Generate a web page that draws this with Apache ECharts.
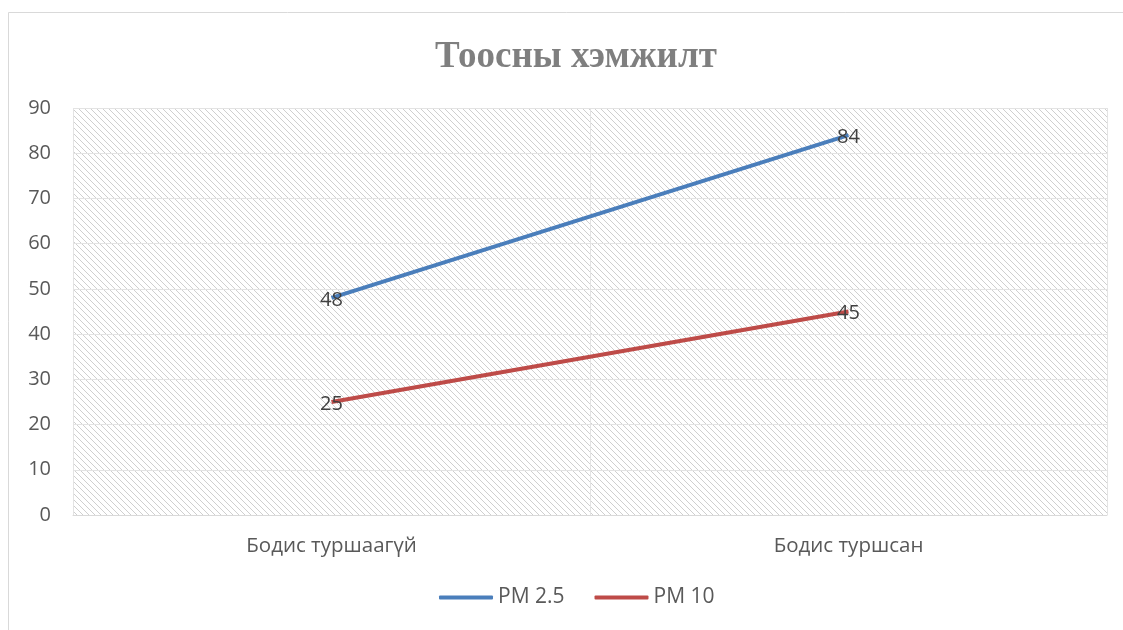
<!DOCTYPE html>
<html lang="mn">
<head>
    <meta charset="UTF-8">
    <title>line</title>
    <script src="https://cdn.jsdelivr.net/npm/echarts@6/dist/echarts.min.js"></script>
</head>
<body style="margin:0;padding:0;background:#fff;">
<div id="main" style="width:1123px;height:630px;"></div>
<script>
    // ангилал ба утгууд
    var categories = ['Бодис туршаагүй', 'Бодис туршсан'];
    var pm25 = [48, 84];
    var pm10 = [25, 45];
    var yTicks = {min: 0, max: 90, interval: 10};

    // диагональ зураасан дэвсгэр
    function makeHatch() {
        var c = document.createElement('canvas');
        c.width = 6;
        c.height = 6;
        var ctx = c.getContext('2d');
        ctx.fillStyle = '#ffffff';
        ctx.fillRect(0, 0, 6, 6);
        ctx.fillStyle = '#cfcfcf';
        for (var i = 0; i < 6; i++) {
            ctx.fillRect(i, i, 1, 1);
        }
        return c;
    }

    var myChart = echarts.init(document.getElementById('main'));
    var option = {
        backgroundColor: '#fff',
        title: {
            text: 'Тоосны хэмжилт',
            left: 430,
            top: 34,
            textStyle: {
                fontFamily: 'Liberation Serif',
                fontWeight: 'bold',
                fontSize: 37,
                color: '#7f7f7f'
            }
        },
        graphic: [{
            type: 'rect',
            shape: {x: 8.5, y: 12.5, width: 1200, height: 700},
            style: {fill: 'none', stroke: '#d9d9d9', lineWidth: 1},
            silent: true
        }],
        grid: {
            left: 73,
            right: 16,
            top: 108,
            bottom: 115,
            show: true,
            borderWidth: 0,
            backgroundColor: {image: makeHatch(), repeat: 'repeat'}
        },
        legend: {
            bottom: 17,
            left: 434,
            itemWidth: 54,
            itemHeight: 4,
            itemGap: 30,
            icon: 'roundRect',
            textStyle: {fontFamily: 'Open Sans', fontSize: 21, color: '#595959'},
            data: ['PM 2.5', 'PM 10']
        },
        xAxis: {
            type: 'category',
            data: categories,
            boundaryGap: true,
            axisLine: {lineStyle: {color: '#d9d9d9', width: 1}},
            axisTick: {show: false},
            splitLine: {show: true, interval: 0, lineStyle: {color: '#e3e3e3', width: 1}},
            axisLabel: {
                margin: 21,
                fontFamily: 'Open Sans',
                fontSize: 20.5,
                color: '#595959'
            }
        },
        yAxis: {
            type: 'value',
            min: yTicks.min,
            max: yTicks.max,
            interval: yTicks.interval,
            axisLine: {show: false},
            axisTick: {show: false},
            splitLine: {lineStyle: {color: '#e3e3e3', width: 1}},
            axisLabel: {
                margin: 22,
                fontFamily: 'Open Sans',
                fontSize: 20,
                color: '#595959'
            }
        },
        series: [{
            name: 'PM 2.5',
            type: 'line',
            data: pm25,
            symbol: 'circle',
            symbolSize: 0,
            showSymbol: true,
            lineStyle: {color: '#4a7ebb', width: 4},
            itemStyle: {color: '#4a7ebb'},
            label: {
                show: true,
                position: 'inside',
                offset: [0, 2],
                fontFamily: 'Open Sans',
                fontSize: 20,
                color: '#404040'
            }
        }, {
            name: 'PM 10',
            type: 'line',
            data: pm10,
            symbol: 'circle',
            symbolSize: 0,
            showSymbol: true,
            lineStyle: {color: '#be4b48', width: 4},
            itemStyle: {color: '#be4b48'},
            label: {
                show: true,
                position: 'inside',
                offset: [0, 2],
                fontFamily: 'Open Sans',
                fontSize: 20,
                color: '#404040'
            }
        }]
    };
    myChart.setOption(option);
</script>
</body>
</html>
